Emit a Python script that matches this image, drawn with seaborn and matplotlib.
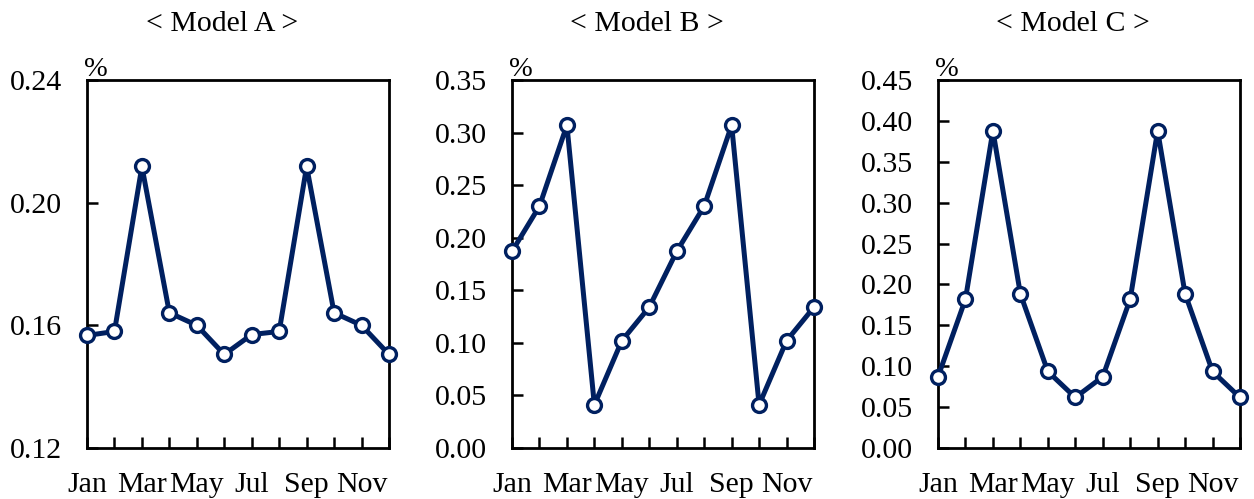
import matplotlib
matplotlib.use("Agg")
import matplotlib.pyplot as plt
import seaborn as sns
import pandas as pd

months = ["Jan", "Feb", "Mar", "Apr", "May", "Jun", "Jul", "Aug", "Sep", "Oct", "Nov", "Dec"]
model_a = [0.1567, 0.158, 0.2118, 0.1641, 0.160, 0.1505, 0.157, 0.158, 0.2118, 0.1641, 0.160, 0.1505]
model_b = [0.187, 0.230, 0.307, 0.041, 0.102, 0.134, 0.187, 0.230, 0.307, 0.041, 0.102, 0.134]
model_c = [0.0871, 0.182, 0.388, 0.1885, 0.0936, 0.0618, 0.0871, 0.182, 0.388, 0.1885, 0.0936, 0.0618]
titles = ["< Model A >", "< Model B >", "< Model C >"]
y_ticks = [[0.12, 0.16, 0.20, 0.24],
           [0.00, 0.05, 0.10, 0.15, 0.20, 0.25, 0.30, 0.35],
           [0.00, 0.05, 0.10, 0.15, 0.20, 0.25, 0.30, 0.35, 0.40, 0.45]]

sns.set_style("white")
plt.rcParams["font.family"] = ["Liberation Serif", "DejaVu Serif"]
plt.rcParams["text.color"] = "black"
plt.rcParams["xtick.color"] = "black"
plt.rcParams["ytick.color"] = "black"
plt.rcParams["axes.labelcolor"] = "black"

navy = "#002060"
fs = 21.5

fig = plt.figure(figsize=(12.54, 4.99), dpi=100)
W, H = 1254, 499
lefts = [87, 512, 938]
ax_w = 302
top, bottom = 80, 448

for i, vals in enumerate([model_a, model_b, model_c]):
    ax = fig.add_axes([lefts[i] / W, 1 - bottom / H, ax_w / W, (bottom - top) / H])
    df = pd.DataFrame({"month": months, "value": vals})
    sns.lineplot(data=df, x="month", y="value", ax=ax, sort=False, color=navy,
                 linewidth=3.6, marker="o", markersize=10, markerfacecolor="white",
                 markeredgecolor=navy, markeredgewidth=2.4, clip_on=False, zorder=5)
    ax.set_xlim(0, 11)
    yt = y_ticks[i]
    ax.set_ylim(yt[0], yt[-1])
    ax.set_yticks(yt)
    ax.set_yticklabels([f"{v:.2f}" for v in yt], fontsize=fs)
    ax.set_xticks(range(12))
    ax.set_xticklabels([m if j % 2 == 0 else "" for j, m in enumerate(months)], fontsize=fs)
    ax.tick_params(axis="both", direction="in", length=8, width=1.8, color="black",
                   labelcolor="black", bottom=True, left=True)
    ax.tick_params(axis="y", pad=18)
    ax.tick_params(axis="x", pad=17)
    for s in ax.spines.values():
        s.set_visible(True)
        s.set_color("black")
        s.set_linewidth(2.0)
    ax.set_xlabel("")
    ax.set_ylabel("")
    ax.text(-0.01, 0.995, "%", transform=ax.transAxes, fontsize=fs - 1,
            ha="left", va="bottom", color="black")
    fig.text((lefts[i] + ax_w / 2 - 16) / W, 1 - 24 / H, titles[i], fontsize=fs,
             ha="center", va="center", color="black")

fig.savefig("out.png", dpi=100)
